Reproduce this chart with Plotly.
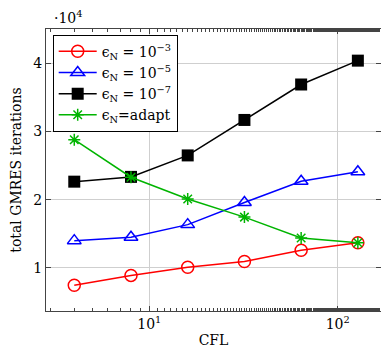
import plotly.graph_objects as go

cfl = [4, 8, 16, 32, 64, 128]
eps3 = [0.745, 0.89, 1.01, 1.095, 1.26, 1.37]
eps5 = [1.40, 1.45, 1.635, 1.96, 2.27, 2.41]
eps7 = [2.265, 2.335, 2.65, 3.17, 3.69, 4.04]
adapt = [2.88, 2.33, 2.01, 1.745, 1.44, 1.37]

names = ["ϵ<sub>N</sub> = 10<sup>−3</sup>", "ϵ<sub>N</sub> = 10<sup>−5</sup>",
         "ϵ<sub>N</sub> = 10<sup>−7</sup>", "ϵ<sub>N</sub>=adapt"]
ytickvals = [1, 2, 3, 4]
yticktext = ["1", "2", "3", "4"]
xtickvals = [10, 100]
xticktext = ["10<sup>1</sup>", "10<sup>2</sup>"]

FONT = "DejaVu Serif"
FS = 14

fig = go.Figure()
fig.add_trace(go.Scatter(x=cfl, y=eps3, name=names[0], mode="lines+markers",
                         line=dict(color="#ff0000", width=1.5),
                         marker=dict(symbol="circle-open", size=12, color="#ff0000", line=dict(width=1.5))))
fig.add_trace(go.Scatter(x=cfl, y=eps5, name=names[1], mode="lines+markers",
                         line=dict(color="#0000ff", width=1.5),
                         marker=dict(symbol="triangle-up-open", size=12, color="#0000ff", line=dict(width=1.5))))
fig.add_trace(go.Scatter(x=cfl, y=eps7, name=names[2], mode="lines+markers",
                         line=dict(color="#000000", width=1.5),
                         marker=dict(symbol="square", size=12, color="#000000")))
fig.add_trace(go.Scatter(x=cfl, y=adapt, name=names[3], mode="lines+markers",
                         line=dict(color="#00b400", width=1.5),
                         marker=dict(symbol="asterisk-open", size=10, color="#00b400", line=dict(width=1.5, color="#00b400"))))

fig.update_layout(
    width=381, height=360,
    margin=dict(l=46, r=0, t=29, b=49),
    paper_bgcolor="white", plot_bgcolor="white",
    font=dict(family=FONT, size=FS, color="black"),
    showlegend=True,
    legend=dict(x=0.02, y=0.98, xanchor="left", yanchor="top",
                bgcolor="white", bordercolor="black", borderwidth=1,
                font=dict(family=FONT, size=FS), itemwidth=38, tracegroupgap=0),
    xaxis=dict(type="log", range=[0.452, 2.23],
               tickvals=xtickvals, ticktext=xticktext,
               ticks="inside", ticklen=5, tickcolor="#444",
               showline=True, linecolor="#444", linewidth=1, mirror="allticks",
               showgrid=True, gridcolor="#cfcfcf", gridwidth=1, zeroline=False,
               minor=dict(ticks="inside", ticklen=3, tickcolor="#444", showgrid=False),
               title=dict(text="CFL", standoff=4, font=dict(size=FS))),
    yaxis=dict(range=[0.368, 4.504],
               tickvals=ytickvals, ticktext=yticktext,
               ticks="inside", ticklen=5, tickcolor="#444",
               showline=True, linecolor="#444", linewidth=1, mirror="allticks",
               showgrid=True, gridcolor="#cfcfcf", gridwidth=1, zeroline=False,
               title=dict(text="total GMRES iterations", standoff=8, font=dict(size=FS))),
    annotations=[dict(text="·10<sup>4</sup>", xref="paper", yref="paper", x=0.0, y=1.0,
                      xanchor="left", yanchor="bottom", yshift=1, xshift=6, showarrow=False,
                      font=dict(family=FONT, size=FS))],
)

fig.write_html("out.html")
